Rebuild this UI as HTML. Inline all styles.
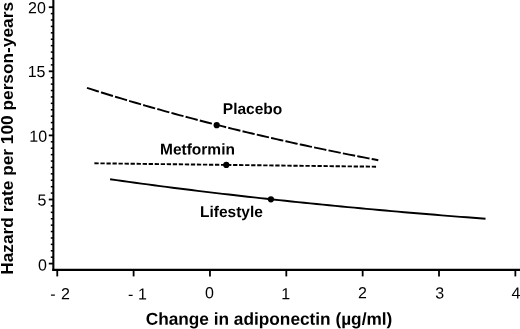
<!DOCTYPE html>
<html><head><meta charset="utf-8"><title>Chart</title>
<style>
html,body{margin:0;padding:0;background:#fff;}
body{width:520px;height:329px;overflow:hidden;}
svg{display:block;will-change:transform;}
text{font-family:"Liberation Sans",sans-serif;fill:#000;}
.b{font-weight:bold;}
</style></head><body>
<svg width="520" height="329" viewBox="0 0 520 329">
<rect width="520" height="329" fill="#fff"/>

<g stroke="#000" fill="none">
<line x1="53.35" y1="0" x2="53.35" y2="270.9" stroke-width="2.1"/>
<line x1="52.33" y1="269.88" x2="520" y2="269.88" stroke-width="2.05"/>
<line x1="48.8" y1="263.60" x2="53" y2="263.60" stroke-width="1.8"/>
<line x1="50.8" y1="257.19" x2="53" y2="257.19" stroke-width="1.5"/>
<line x1="50.8" y1="250.78" x2="53" y2="250.78" stroke-width="1.5"/>
<line x1="50.8" y1="244.37" x2="53" y2="244.37" stroke-width="1.5"/>
<line x1="50.8" y1="237.96" x2="53" y2="237.96" stroke-width="1.5"/>
<line x1="50.8" y1="231.55" x2="53" y2="231.55" stroke-width="1.5"/>
<line x1="50.8" y1="225.14" x2="53" y2="225.14" stroke-width="1.5"/>
<line x1="50.8" y1="218.73" x2="53" y2="218.73" stroke-width="1.5"/>
<line x1="50.8" y1="212.32" x2="53" y2="212.32" stroke-width="1.5"/>
<line x1="50.8" y1="205.91" x2="53" y2="205.91" stroke-width="1.5"/>
<line x1="48.8" y1="199.50" x2="53" y2="199.50" stroke-width="1.8"/>
<line x1="50.8" y1="193.09" x2="53" y2="193.09" stroke-width="1.5"/>
<line x1="50.8" y1="186.68" x2="53" y2="186.68" stroke-width="1.5"/>
<line x1="50.8" y1="180.27" x2="53" y2="180.27" stroke-width="1.5"/>
<line x1="50.8" y1="173.86" x2="53" y2="173.86" stroke-width="1.5"/>
<line x1="50.8" y1="167.45" x2="53" y2="167.45" stroke-width="1.5"/>
<line x1="50.8" y1="161.04" x2="53" y2="161.04" stroke-width="1.5"/>
<line x1="50.8" y1="154.63" x2="53" y2="154.63" stroke-width="1.5"/>
<line x1="50.8" y1="148.22" x2="53" y2="148.22" stroke-width="1.5"/>
<line x1="50.8" y1="141.81" x2="53" y2="141.81" stroke-width="1.5"/>
<line x1="48.8" y1="135.40" x2="53" y2="135.40" stroke-width="1.8"/>
<line x1="50.8" y1="128.99" x2="53" y2="128.99" stroke-width="1.5"/>
<line x1="50.8" y1="122.58" x2="53" y2="122.58" stroke-width="1.5"/>
<line x1="50.8" y1="116.17" x2="53" y2="116.17" stroke-width="1.5"/>
<line x1="50.8" y1="109.76" x2="53" y2="109.76" stroke-width="1.5"/>
<line x1="50.8" y1="103.35" x2="53" y2="103.35" stroke-width="1.5"/>
<line x1="50.8" y1="96.94" x2="53" y2="96.94" stroke-width="1.5"/>
<line x1="50.8" y1="90.53" x2="53" y2="90.53" stroke-width="1.5"/>
<line x1="50.8" y1="84.12" x2="53" y2="84.12" stroke-width="1.5"/>
<line x1="50.8" y1="77.71" x2="53" y2="77.71" stroke-width="1.5"/>
<line x1="48.8" y1="71.30" x2="53" y2="71.30" stroke-width="1.8"/>
<line x1="50.8" y1="64.89" x2="53" y2="64.89" stroke-width="1.5"/>
<line x1="50.8" y1="58.48" x2="53" y2="58.48" stroke-width="1.5"/>
<line x1="50.8" y1="52.07" x2="53" y2="52.07" stroke-width="1.5"/>
<line x1="50.8" y1="45.66" x2="53" y2="45.66" stroke-width="1.5"/>
<line x1="50.8" y1="39.25" x2="53" y2="39.25" stroke-width="1.5"/>
<line x1="50.8" y1="32.84" x2="53" y2="32.84" stroke-width="1.5"/>
<line x1="50.8" y1="26.43" x2="53" y2="26.43" stroke-width="1.5"/>
<line x1="50.8" y1="20.02" x2="53" y2="20.02" stroke-width="1.5"/>
<line x1="50.8" y1="13.61" x2="53" y2="13.61" stroke-width="1.5"/>
<line x1="48.8" y1="7.20" x2="53" y2="7.20" stroke-width="1.8"/>
<line x1="57.26" y1="270" x2="57.26" y2="276.4" stroke-width="1.8"/>
<line x1="133.61" y1="270" x2="133.61" y2="276.4" stroke-width="1.8"/>
<line x1="209.96" y1="270" x2="209.96" y2="276.4" stroke-width="1.8"/>
<line x1="286.31" y1="270" x2="286.31" y2="276.4" stroke-width="1.8"/>
<line x1="362.66" y1="270" x2="362.66" y2="276.4" stroke-width="1.8"/>
<line x1="439.01" y1="270" x2="439.01" y2="276.4" stroke-width="1.8"/>
<line x1="515.36" y1="270" x2="515.36" y2="276.4" stroke-width="1.8"/>
</g>
<text transform="translate(45.90,13.20) rotate(0.03)" font-size="16" text-anchor="end">20</text>
<text transform="translate(45.50,76.90) rotate(0.03)" font-size="16" text-anchor="end">15</text>
<text transform="translate(47.10,141.70) rotate(0.03)" font-size="16" text-anchor="end">10</text>
<text transform="translate(46.50,205.40) rotate(0.03)" font-size="16" text-anchor="end">5</text>
<text transform="translate(46.80,270.60) rotate(0.03)" font-size="16" text-anchor="end">0</text>
<text transform="translate(50.30,299.30) rotate(0.03)" font-size="16" text-anchor="start">-</text>
<text transform="translate(61.00,299.30) rotate(0.03)" font-size="16" text-anchor="start">2</text>
<text transform="translate(127.90,299.40) rotate(0.03)" font-size="16" text-anchor="start">-</text>
<text transform="translate(138.06,299.40) rotate(0.03)" font-size="16" text-anchor="start">1</text>
<text transform="translate(205.05,298.30) rotate(0.03)" font-size="16" text-anchor="start">0</text>
<text transform="translate(281.16,299.20) rotate(0.03)" font-size="16" text-anchor="start">1</text>
<text transform="translate(358.00,298.30) rotate(0.03)" font-size="16" text-anchor="start">2</text>
<text transform="translate(435.20,298.60) rotate(0.03)" font-size="16" text-anchor="start">3</text>
<text transform="translate(511.60,298.50) rotate(0.03)" font-size="16" text-anchor="start">4</text>
<text class="b" transform="translate(269.00,324.80) rotate(0.03)" font-size="17.25" text-anchor="middle">Change in adiponectin (µg/ml)</text>
<text class="b" transform="translate(12.80,138.40) rotate(-90)" font-size="17.3" text-anchor="middle">Hazard rate per 100 person-years</text>
<g stroke="#000" fill="none" stroke-width="1.9">
<path d="M86.99 87.90 L91.84 89.44 L96.70 90.97 L101.56 92.49 L106.41 94.00 L111.27 95.49 L116.12 96.97 L120.98 98.44 L125.83 99.89 L130.69 101.33 L135.54 102.76 L140.40 104.17 L145.25 105.58 L150.11 106.97 L154.96 108.35 L159.82 109.71 L164.67 111.07 L169.53 112.41 L174.38 113.74 L179.24 115.06 L184.09 116.36 L188.95 117.66 L193.80 118.94 L198.66 120.22 L203.51 121.48 L208.37 122.73 L213.22 123.97 L218.08 125.20 L222.94 126.41 L227.79 127.62 L232.65 128.82 L237.50 130.00 L242.36 131.18 L247.21 132.34 L252.07 133.50 L256.92 134.64 L261.78 135.78 L266.63 136.90 L271.49 138.02 L276.34 139.12 L281.20 140.22 L286.05 141.30 L290.91 142.38 L295.76 143.45 L300.62 144.50 L305.47 145.55 L310.33 146.59 L315.18 147.62 L320.04 148.64 L324.89 149.65 L329.75 150.65 L334.61 151.65 L339.46 152.63 L344.32 153.61 L349.17 154.57 L354.03 155.53 L358.88 156.48 L363.74 157.43 L368.59 158.36 L373.45 159.29 L378.30 160.20" stroke-dasharray="12.5 2.18"/>
<path d="M94.4 163.3 L376.1 166.7" stroke-dasharray="4.3 1.73"/>
<path d="M110.08 179.27 L116.34 180.15 L122.59 181.03 L128.85 181.89 L135.11 182.75 L141.36 183.60 L147.62 184.43 L153.88 185.26 L160.14 186.08 L166.39 186.90 L172.65 187.70 L178.91 188.49 L185.17 189.28 L191.42 190.06 L197.68 190.83 L203.94 191.59 L210.19 192.35 L216.45 193.09 L222.71 193.83 L228.97 194.56 L235.22 195.28 L241.48 196.00 L247.74 196.71 L254.00 197.41 L260.25 198.10 L266.51 198.79 L272.77 199.47 L279.02 200.14 L285.28 200.80 L291.54 201.46 L297.80 202.11 L304.05 202.75 L310.31 203.39 L316.57 204.02 L322.83 204.65 L329.08 205.26 L335.34 205.87 L341.60 206.48 L347.86 207.08 L354.11 207.67 L360.37 208.25 L366.63 208.83 L372.88 209.41 L379.14 209.97 L385.40 210.54 L391.66 211.09 L397.91 211.64 L404.17 212.18 L410.43 212.72 L416.69 213.26 L422.94 213.78 L429.20 214.30 L435.46 214.82 L441.71 215.33 L447.97 215.84 L454.23 216.34 L460.49 216.83 L466.74 217.32 L473.00 217.80 L479.26 218.28 L485.52 218.76"/>
</g>
<circle cx="216.7" cy="125.2" r="3.1" fill="#000"/>
<circle cx="226.3" cy="164.9" r="3.1" fill="#000"/>
<circle cx="270.9" cy="199.3" r="3.1" fill="#000"/>
<text class="b" transform="translate(222.80,114.10) rotate(0.03)" font-size="15.5" text-anchor="start">Placebo</text>
<text class="b" transform="translate(160.00,154.40) rotate(0.03)" font-size="15.5" text-anchor="start">Metformin</text>
<text class="b" transform="translate(200.00,216.90) rotate(0.03)" font-size="15.5" text-anchor="start">Lifestyle</text>
</svg></body></html>
